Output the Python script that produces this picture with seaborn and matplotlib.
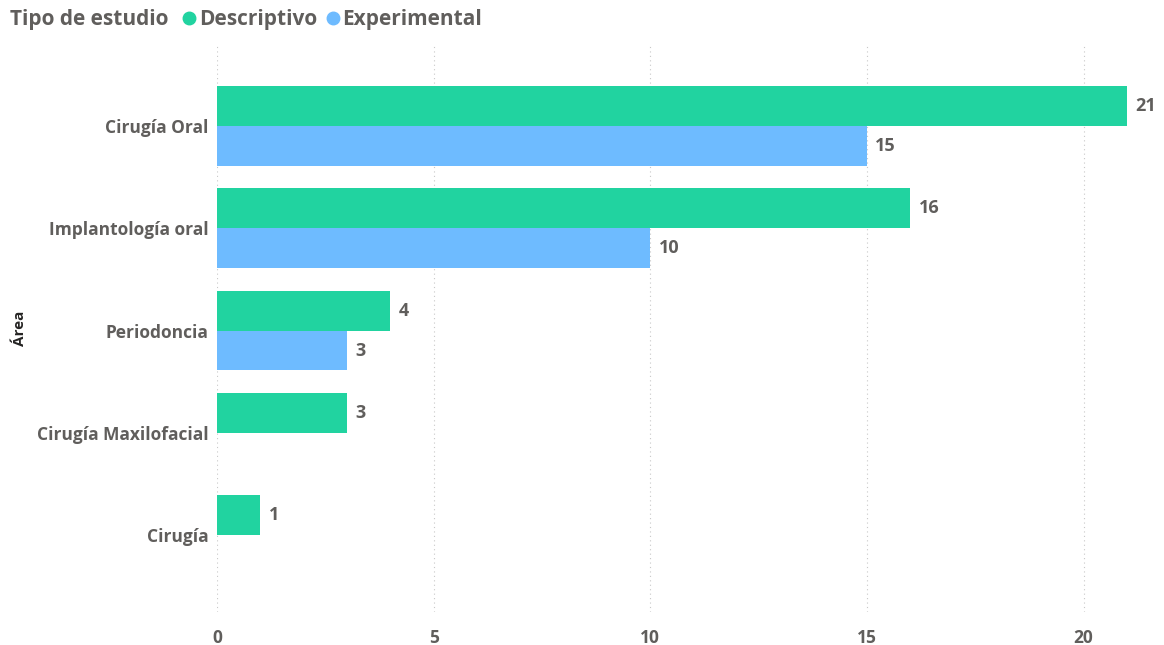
import pandas as pd
import matplotlib.pyplot as plt
import seaborn as sns
from matplotlib.lines import Line2D

# --- data ---
areas = ["Cirugía Oral", "Implantología oral", "Periodoncia", "Cirugía Maxilofacial", "Cirugía"]
descriptivo = [21, 16, 4, 3, 1]
experimental = [15, 10, 3, None, None]
tipos = ["Descriptivo", "Experimental"]
colors = ["#21D3A0", "#6EBBFF"]

rows = []
for a, d, e in zip(areas, descriptivo, experimental):
    if d is not None:
        rows.append({"Área": a, "Tipo de estudio": "Descriptivo", "Recuento": d})
    if e is not None:
        rows.append({"Área": a, "Tipo de estudio": "Experimental", "Recuento": e})
df = pd.DataFrame(rows)

sns.set_style("white")
plt.rcParams["font.family"] = ["Open Sans", "DejaVu Sans"]
text_col = "#605E5C"

fig = plt.figure(figsize=(11.64, 6.45), dpi=100)
ax = fig.add_axes([217 / 1164, 1 - 612 / 645, (1152 - 217) / 1164, (612 - 45) / 645])

sns.barplot(data=df, y="Área", x="Recuento", hue="Tipo de estudio",
            order=areas, hue_order=tipos, palette=colors, orient="h",
            width=0.78, gap=0, errorbar=None, legend=False, ax=ax,
            saturation=1, linewidth=0)

for container in ax.containers:
    ax.bar_label(container, fmt="%g", padding=6, fontsize=13, fontweight="bold", color=text_col)

ax.set_xlim(0, 21.58)
ax.set_ylim(4.75, -0.79)
ax.set_xticks([0, 5, 10, 15, 20])
ax.grid(axis="x", linestyle=(0, (1, 3)), color="#C8C8C8", linewidth=0.8)
ax.set_axisbelow(True)
for s in ax.spines.values():
    s.set_visible(False)
ax.tick_params(axis="both", length=0, labelsize=12.5, labelcolor=text_col)
for lbl in ax.get_xticklabels() + ax.get_yticklabels():
    lbl.set_fontweight("bold")
ax.tick_params(axis="x", pad=12)
ax.tick_params(axis="y", pad=6)
ax.set_xlabel("")
ax.set_ylabel("Área", fontsize=11, fontweight="bold", color="#252423")
ax.yaxis.set_label_coords(-0.203, 0.5)

# legend across the top
fig.text(10 / 1164, 1 - 20 / 645, "Tipo de estudio", fontsize=15, fontweight="bold",
         color=text_col, va="center", ha="left")
handles = [Line2D([], [], marker="o", linestyle="", markersize=9, color=c) for c in colors]
leg = fig.legend(handles, tipos, loc="center left", bbox_to_anchor=(180 / 1164, 1 - 20 / 645),
                 ncol=2, frameon=False, handletextpad=0.0, columnspacing=0.3,
                 handlelength=0.9, borderaxespad=0, borderpad=0,
                 prop={"size": 15, "weight": "bold"})
for t in leg.get_texts():
    t.set_color(text_col)

plt.savefig("out.png", dpi=100)
